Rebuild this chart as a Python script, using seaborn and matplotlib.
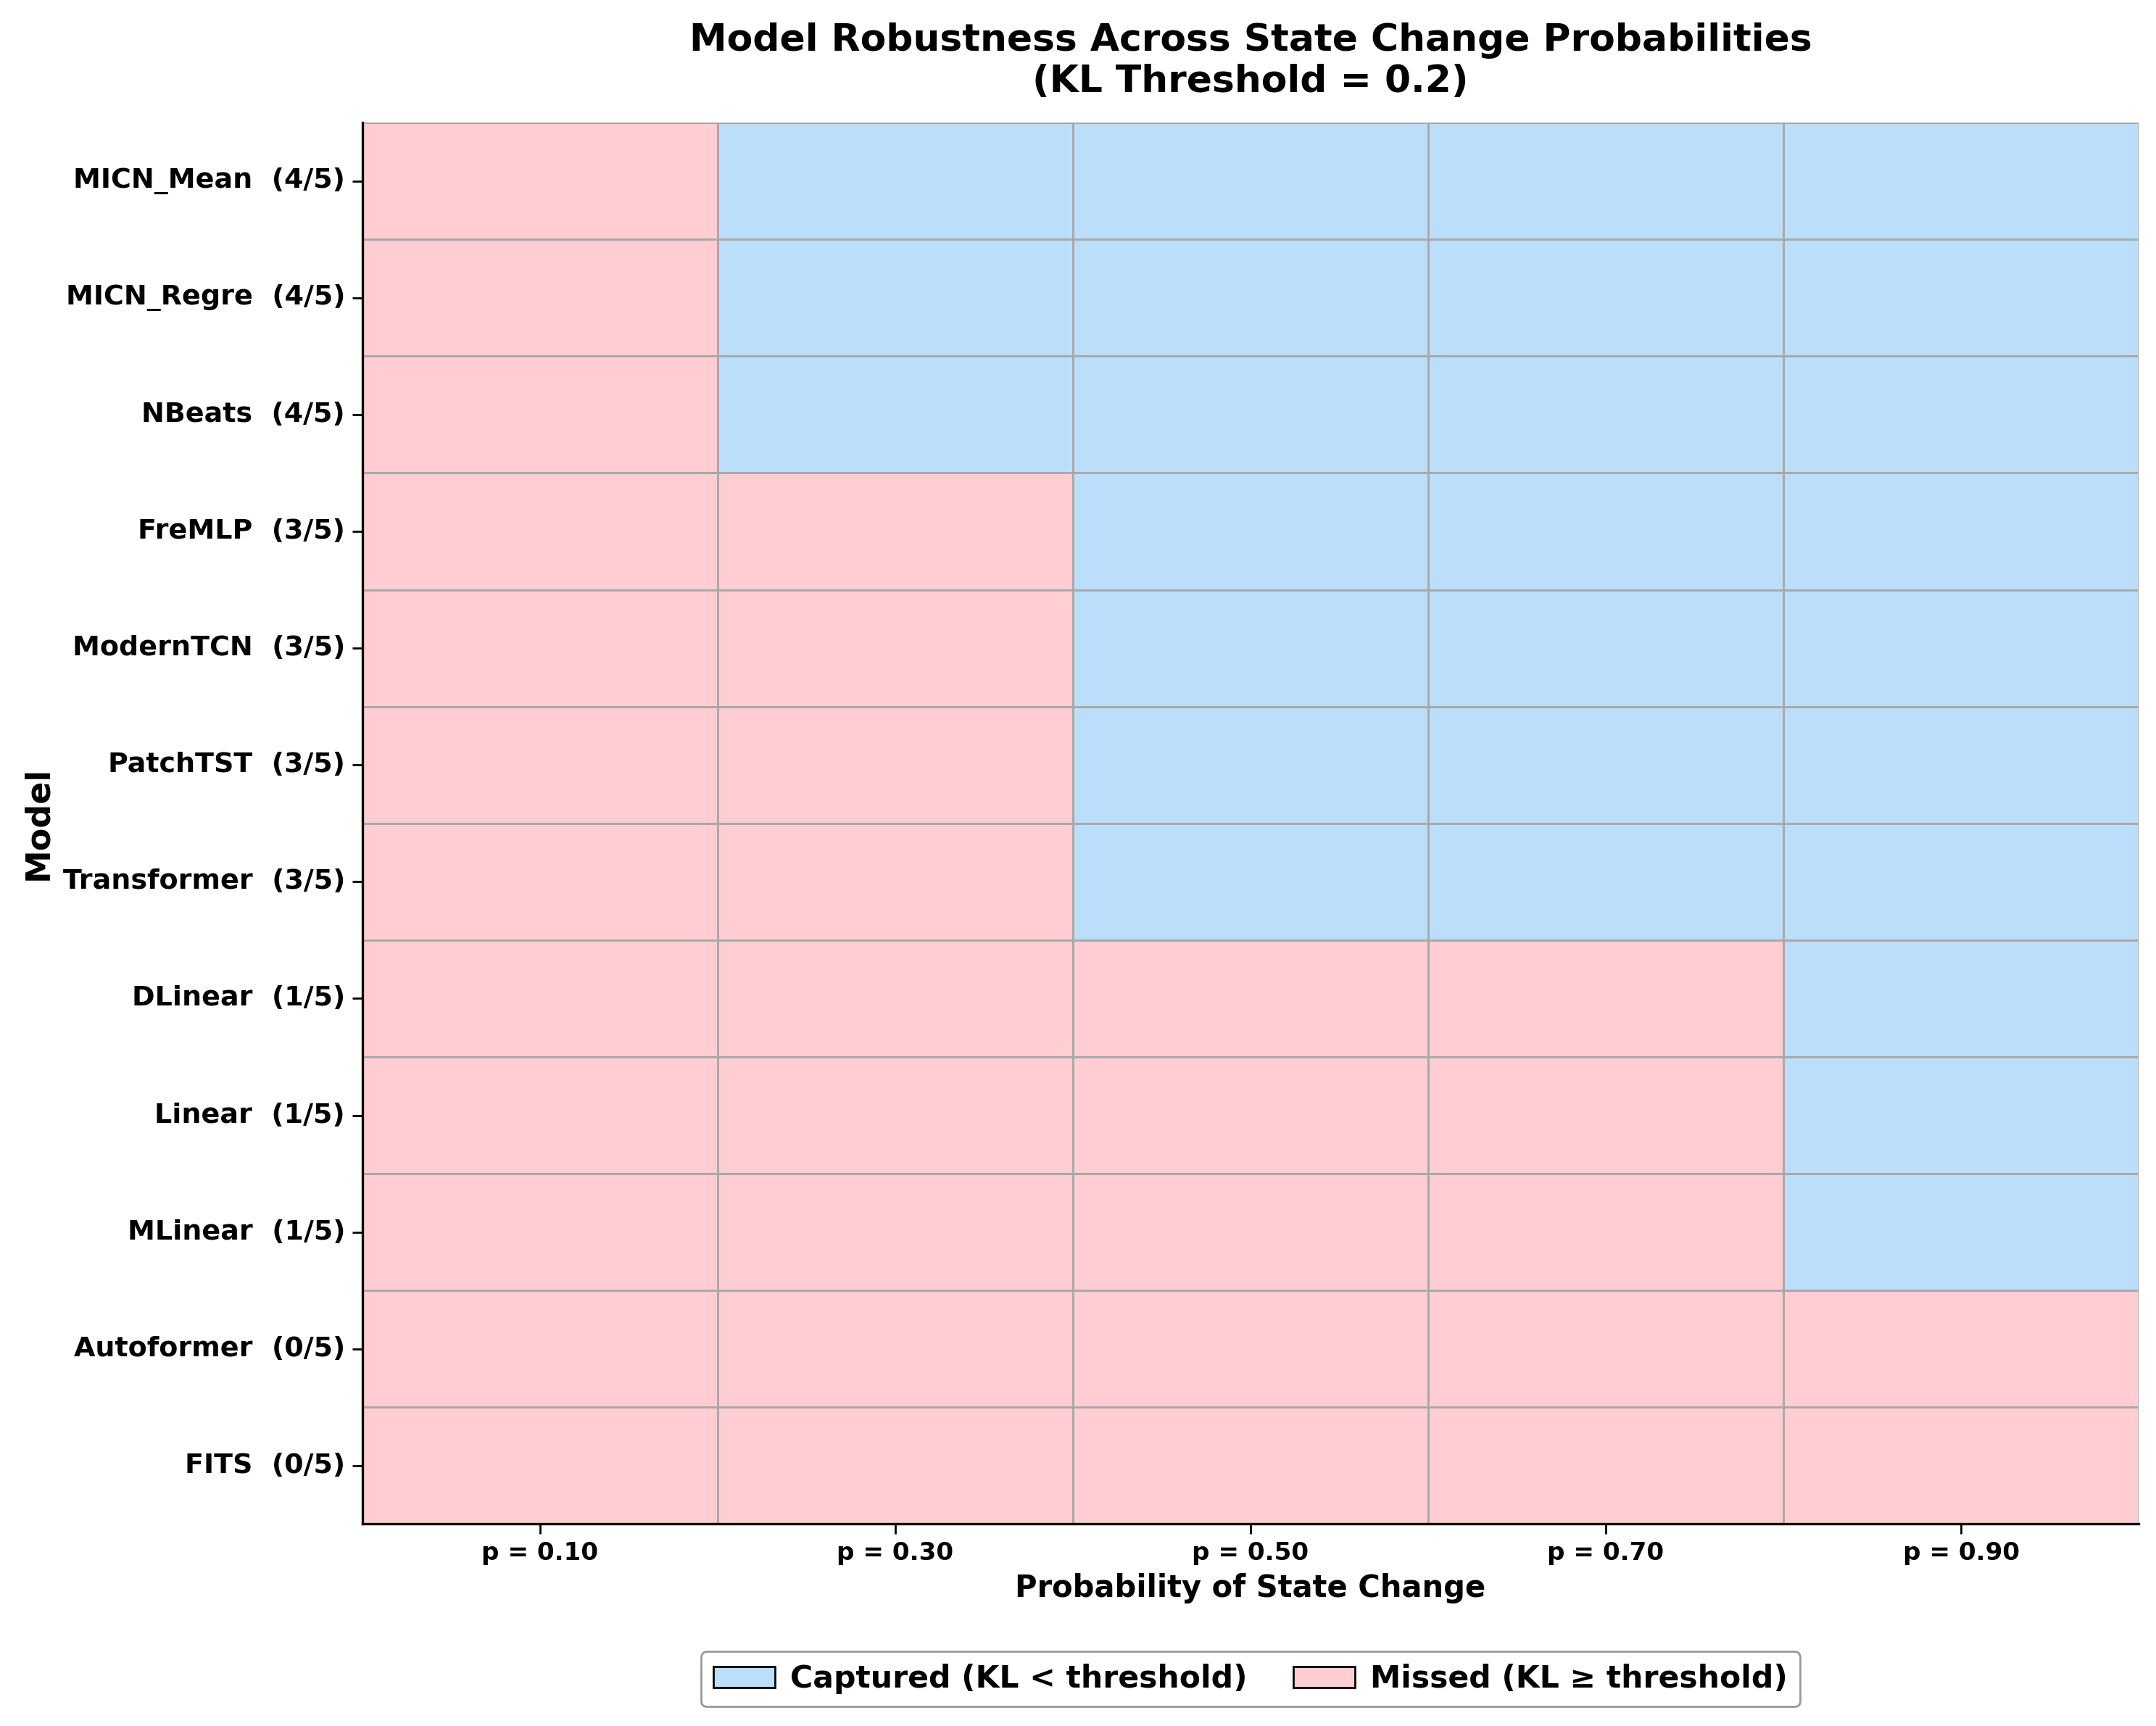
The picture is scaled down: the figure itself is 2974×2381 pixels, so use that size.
import matplotlib
matplotlib.use('Agg')
import matplotlib.pyplot as plt
import seaborn as sns
import numpy as np
import pandas as pd
from matplotlib.colors import ListedColormap
from matplotlib.patches import Patch

models = ['MICN_Mean', 'MICN_Regre', 'NBeats', 'FreMLP', 'ModernTCN', 'PatchTST',
          'Transformer', 'DLinear', 'Linear', 'MLinear', 'Autoformer', 'FITS']
probs = [0.10, 0.30, 0.50, 0.70, 0.90]
# 1 = captured (KL < threshold), 0 = missed
captured = [
    [0, 1, 1, 1, 1],
    [0, 1, 1, 1, 1],
    [0, 1, 1, 1, 1],
    [0, 0, 1, 1, 1],
    [0, 0, 1, 1, 1],
    [0, 0, 1, 1, 1],
    [0, 0, 1, 1, 1],
    [0, 0, 0, 0, 1],
    [0, 0, 0, 0, 1],
    [0, 0, 0, 0, 1],
    [0, 0, 0, 0, 0],
    [0, 0, 0, 0, 0],
]
threshold = 0.2

BLUE = '#BBDEFB'
PINK = '#FFCDD2'

df = pd.DataFrame(captured, index=models, columns=[f'p = {p:.2f}' for p in probs])
ylabels = [f'{m}  ({int(r.sum())}/{len(probs)})' for m, r in df.iterrows()]

sns.set_style('white')
plt.rcParams.update({'text.color': 'black', 'axes.labelcolor': 'black',
                     'xtick.color': 'black', 'ytick.color': 'black'})
fig, ax = plt.subplots(figsize=(14.87, 11.905), dpi=200)
sns.heatmap(df, ax=ax, cmap=ListedColormap([PINK, BLUE]), vmin=0, vmax=1,
            cbar=False, linewidths=1, linecolor='darkgray')
sns.despine(ax=ax)
for s in ['left', 'bottom']:
    ax.spines[s].set_visible(True)
    ax.spines[s].set_color('black')
    ax.spines[s].set_linewidth(1.2)

ax.set_yticklabels(ylabels, rotation=0, fontsize=13.7, fontweight='bold')
ax.set_xticklabels(df.columns, rotation=0, fontsize=12.3, fontweight='bold')
ax.tick_params(axis='both', length=5, width=1, color='black', left=True, bottom=True)
ax.set_xlabel('Probability of State Change', fontsize=15, fontweight='bold')
ax.set_ylabel('Model', fontsize=16.5, fontweight='bold')
ax.set_title(f'Model Robustness Across State Change Probabilities\n(KL Threshold = {threshold})',
             fontsize=18.7, fontweight='bold', pad=15)

handles = [Patch(facecolor=BLUE, edgecolor='black', label='Captured (KL < threshold)'),
           Patch(facecolor=PINK, edgecolor='black', label='Missed (KL ≥ threshold)')]
leg = ax.legend(handles=handles, loc='upper center', bbox_to_anchor=(0.5, -0.08), ncol=2,
                prop={'size': 15.3, 'weight': 'bold'}, frameon=True, edgecolor='gray',
                columnspacing=1.5, borderpad=0.4, handletextpad=0.5)

plt.subplots_adjust(left=0.168, right=0.992, top=0.929, bottom=0.117)
plt.savefig('out.png', dpi=200)
